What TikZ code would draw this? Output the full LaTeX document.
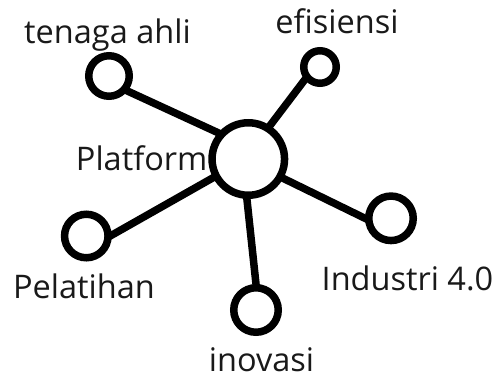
\documentclass[tikz,border=0pt]{standalone}
\usepackage{fontspec}
\setmainfont{Open Sans}
\usetikzlibrary{backgrounds}
\begin{document}
\begin{tikzpicture}[x=1pt,y=-1pt,
  hub/.style={circle,draw=black,fill=white,line width=7.5pt,inner sep=0pt,minimum size=#1},
  link/.style={line width=7.5pt,shorten <=-4pt,shorten >=-4pt},
  lbl/.style={anchor=base,inner sep=0pt,font=\fontsize{32.5}{32.5}\selectfont,text=black!90}]
  \useasboundingbox (0,0) rectangle (496,378);

  % central hub and its five satellites
  \node[hub=72.5pt] (c) at (248.3,159) {};
  \node[hub=40.5pt] (ta) at (109,76) {};
  \node[hub=32.5pt] (ef) at (320,67) {};
  \node[hub=43.5pt] (pe) at (86.3,236) {};
  \node[hub=44.5pt] (in) at (391,218.3) {};
  \node[hub=44.5pt] (ino) at (256,310) {};

  % spokes, drawn beneath the circles
  \begin{pgfonlayer}{background}
    \draw[link] (c.139) -- (ta.-39.5);
    \draw[link] (c.57.5) -- (ef.220);
    \draw[link] (c.208.7) -- (pe.2);
    \draw[link] (c.-29) -- (in.180);
    \draw[link] (c.-92) -- (ino.90);
  \end{pgfonlayer}

  % labels
  \node[lbl] (tTa) at (107.5,43) {tenaga ahli};
  \node[lbl] (tEf) at (337,33) {efisiensi};
  \node[lbl] (tPl) at (141.7,170) {Platform};
  \node[lbl] (tPe) at (84,298) {Pelatihan};
  \node[lbl] (tIn) at (407.5,290) {Industri 4.0};
  \node[lbl] (tIno) at (261.5,371) {inovasi};
\end{tikzpicture}
\end{document}
